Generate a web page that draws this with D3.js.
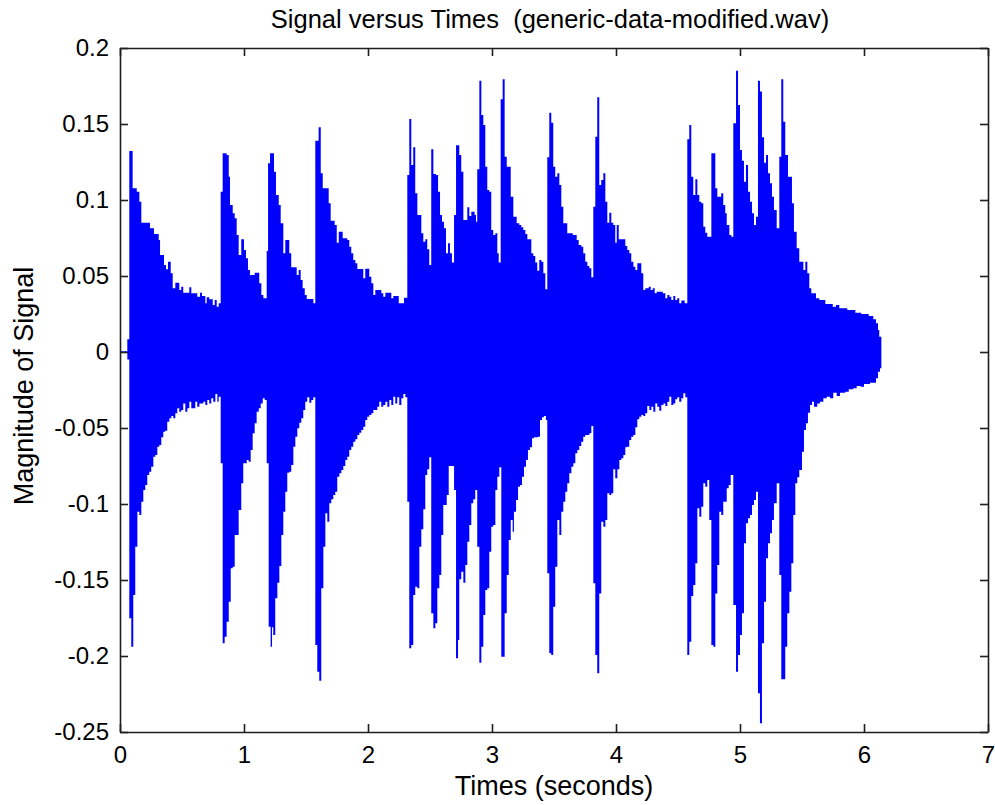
<!DOCTYPE html>
<meta charset="utf-8">
<script src="https://d3js.org/d3.v7.min.js"></script>
<style>
  body { margin: 0; background: #fff; }
  text { font-family: "Liberation Sans", Arial, Helvetica, sans-serif; fill: #000; }
</style>
<div id="chart"></div>
<script>
// axis ticks
var xTicks = [0, 1, 2, 3, 4, 5, 6, 7];
var yTicks = [0.2, 0.15, 0.1, 0.05, 0, -0.05, -0.1, -0.15, -0.2, -0.25];
var yTickLabels = ["0.2", "0.15", "0.1", "0.05", "0", "-0.05", "-0.1", "-0.15", "-0.2", "-0.25"];

// flat lead-in before the first note (seconds, magnitude)
var leadTimes = [0, 0.059];
var leadValues = [0, 0];

// upper envelope of the waveform (step starts)
var upperTimes = [0.059,0.075,0.102,0.135,0.156,0.172,0.242,0.274,0.312,0.323,0.355,0.371,0.387,0.409,0.425,0.446,0.478,0.494,0.510,0.559,0.575,0.623,0.645,0.661,0.688,0.699,0.720,0.748,0.764,0.780,0.796,
  0.812,0.828,0.860,0.877,0.887,0.909,0.925,0.941,0.957,0.978,1.000,1.016,1.032,1.048,1.086,1.123,1.140,1.156,
  1.183,1.194,1.210,1.242,1.258,1.280,1.296,1.317,1.333,1.365,1.381,1.425,1.441,1.457,1.473,1.490,1.506,1.559,
  1.575,1.602,1.619,1.635,1.683,1.699,1.731,1.748,1.764,1.796,1.833,1.849,1.865,1.881,1.898,1.914,1.962,1.978,2.010,2.027,2.043,2.059,2.107,2.123,2.140,2.188,2.204,2.248,2.290,
  2.317,2.333,2.349,2.365,2.381,2.398,2.430,2.446,2.462,2.478,2.494,
  2.510,2.527,2.548,2.565,2.581,2.597,2.613,2.629,2.645,2.661,2.677,
  2.694,2.710,2.736,2.752,2.769,2.801,2.817,2.833,2.860,2.871,
  2.881,2.898,2.914,2.930,2.946,2.962,2.978,2.994,3.010,3.027,3.043,3.054,
  3.070,3.086,3.102,3.119,3.151,3.172,3.199,3.220,3.236,3.252,3.269,3.285,3.317,3.333,3.349,3.365,3.381,3.398,3.414,3.430,
  3.446,3.462,3.478,3.494,3.510,3.527,3.543,3.559,3.575,3.607,3.651,3.683,3.699,3.720,3.736,3.752,3.769,3.785,3.801,
  3.817,3.833,3.849,3.865,3.881,3.898,3.914,3.930,3.946,3.962,3.978,3.994,4.006,4.022,4.075,4.091,4.107,4.123,4.140,4.156,4.172,4.204,4.220,4.236,4.264,4.280,4.296,4.312,4.328,4.377,4.398,4.414,4.430,4.446,4.462,4.478,4.494,4.510,4.527,4.554,
  4.575,4.591,4.607,4.623,4.640,4.656,4.672,4.688,4.704,4.720,4.736,
  4.769,4.801,4.817,4.849,4.865,4.881,4.893,4.914,4.930,
  4.946,4.968,4.984,5.000,5.016,5.032,5.048,5.065,5.081,5.097,5.113,5.129,
  5.145,5.161,5.177,5.194,5.210,5.226,5.242,5.258,5.274,5.296,
  5.317,5.333,5.349,5.365,5.387,5.419,5.435,5.457,5.478,5.511,5.527,5.543,5.559,5.575,5.613,5.640,5.688,5.748,5.774,5.801,5.865,5.930,5.978,6.038,6.075,6.097,6.113,6.123,6.140];
var upperValues = [0.0084,0.1322,0.1077,0.1055,0.0989,0.0851,0.0814,0.0776,0.0737,0.0638,0.0572,0.0544,0.0594,0.0518,0.0419,0.0456,0.0408,0.0430,0.0390,0.0426,0.0386,0.0364,0.0390,0.0368,0.0320,0.0360,0.0347,0.0309,0.0342,0.0298,0.0320,
  0.1055,0.1307,0.1296,0.1153,0.0967,0.0913,0.0880,0.0770,0.0638,0.0741,0.0671,0.0616,0.0539,0.0507,0.0522,0.0452,0.0375,0.0353,
  0.0664,0.1241,0.1307,0.1186,0.1033,0.0967,0.0847,0.0649,0.0737,0.0649,0.0557,0.0507,0.0539,0.0474,0.0419,0.0375,0.0349,0.0320,
  0.1390,0.1478,0.1176,0.1077,0.0978,0.0864,0.0836,0.0719,0.0791,0.0748,0.0737,0.0693,0.0649,0.0605,0.0584,0.0546,0.0485,0.0548,0.0495,0.0452,0.0375,0.0408,0.0386,0.0364,0.0390,0.0353,0.0368,0.0320,0.0357,
  0.1164,0.1533,0.1230,0.1347,0.1044,0.0901,0.0781,0.0726,0.0741,0.0676,0.0572,
  0.1334,0.1171,0.1164,0.1055,0.0901,0.0857,0.0814,0.0649,0.0715,0.0649,0.0588,
  0.0901,0.1360,0.1296,0.1186,0.0868,0.0952,0.0895,0.0923,0.0901,0.0857,
  0.1202,0.1785,0.1559,0.1493,0.1219,0.1066,0.1055,0.0803,0.0770,0.0781,0.0649,0.0588,
  0.1663,0.1794,0.1285,0.1219,0.1022,0.0890,0.0847,0.0836,0.0820,0.0803,0.0776,0.0741,0.0649,0.0632,0.0588,0.0535,0.0605,0.0594,0.0518,0.0413,
  0.1281,0.1574,0.1509,0.1219,0.1153,0.1176,0.1099,0.0956,0.0847,0.0781,0.0770,0.0737,0.0704,0.0693,0.0649,0.0594,0.0566,0.0551,0.0491,
  0.0956,0.1416,0.1676,0.1099,0.1132,0.1176,0.0989,0.0851,0.0916,0.0851,0.0836,0.0719,0.0836,0.0741,0.0697,0.0671,0.0649,0.0594,0.0561,0.0539,0.0584,0.0518,0.0408,0.0419,0.0430,0.0408,0.0419,0.0386,0.0397,0.0386,0.0353,0.0375,0.0364,0.0342,0.0368,0.0342,0.0353,0.0320,0.0338,0.0320,
  0.1399,0.1493,0.1153,0.1033,0.1136,0.1033,0.0989,0.0978,0.0824,0.0785,0.0759,
  0.1307,0.1077,0.1022,0.1044,0.0967,0.0913,0.0836,0.0770,0.0759,
  0.1505,0.1851,0.1625,0.1329,0.1259,0.1120,0.1230,0.1055,0.0989,0.0913,0.0836,0.0890,
  0.1785,0.1713,0.1413,0.1245,0.1296,0.1176,0.1110,0.1022,0.0934,0.0814,
  0.1285,0.1794,0.1515,0.1296,0.1153,0.0978,0.0791,0.0682,0.0594,0.0539,0.0594,0.0518,0.0419,0.0386,0.0353,0.0342,0.0316,0.0298,0.0309,0.0288,0.0276,0.0259,0.0250,0.0237,0.0215,0.0189,0.0145,0.0101,0];

// lower envelope of the waveform (step starts)
var lowerTimes = [0.059,0.075,0.091,0.107,0.123,0.140,0.156,0.172,0.188,0.204,0.220,0.236,0.252,0.269,0.285,0.301,0.317,0.333,0.349,0.365,0.381,0.398,0.414,0.430,0.446,0.462,0.478,0.494,0.510,0.527,0.543,0.559,0.575,0.607,0.623,0.640,0.672,0.688,0.704,0.720,0.736,0.752,0.769,0.785,0.796,
  0.812,0.828,0.844,0.860,0.877,0.893,0.909,0.925,0.957,0.978,0.994,1.022,1.038,1.054,1.070,1.086,1.102,1.119,1.135,1.151,1.167,
  1.183,1.199,1.215,1.226,1.236,1.252,1.269,1.285,1.301,1.317,1.333,1.349,1.365,1.381,1.398,1.414,1.430,1.446,1.462,1.478,1.494,1.510,1.527,1.543,1.559,
  1.575,1.591,1.607,1.623,1.640,1.656,1.672,1.688,1.704,1.720,1.736,1.752,1.769,1.785,1.801,1.817,1.833,1.849,1.865,1.881,1.898,1.914,1.930,1.946,1.962,1.978,1.994,2.010,2.027,2.043,2.075,2.091,2.107,2.123,2.140,2.156,2.172,2.188,2.204,2.220,2.236,2.252,2.269,2.285,2.301,
  2.317,2.333,2.349,2.365,2.381,2.398,2.414,2.430,2.446,2.462,2.478,2.494,
  2.510,2.527,2.543,2.559,2.575,2.591,2.607,2.635,2.651,
  2.694,2.710,2.726,2.736,2.752,2.769,2.785,2.801,2.817,2.833,2.849,2.865,
  2.881,2.898,2.914,2.930,2.946,2.962,2.978,2.994,3.010,3.027,3.043,3.059,
  3.075,3.102,3.119,3.135,3.151,3.167,3.177,3.194,3.210,3.226,3.242,3.258,3.274,3.290,3.306,3.323,3.339,3.371,3.387,3.403,3.419,3.435,
  3.446,3.462,3.478,3.494,3.510,3.527,3.543,3.559,3.575,3.591,3.607,3.623,3.640,3.656,3.672,3.688,3.704,3.720,3.736,3.752,3.785,3.801,
  3.817,3.833,3.849,3.865,3.881,3.898,3.914,3.930,3.946,3.962,3.978,3.994,4.011,4.027,4.043,4.059,4.075,4.091,4.107,4.123,4.140,4.156,4.172,4.188,4.204,4.220,4.236,4.252,4.269,4.285,4.301,4.317,4.333,4.349,4.365,4.382,4.398,4.414,4.430,4.446,4.462,4.478,4.494,4.510,4.527,4.543,4.559,
  4.575,4.591,4.607,4.623,4.640,4.656,4.672,4.688,4.704,4.720,4.736,4.752,
  4.769,4.785,4.801,4.817,4.833,4.849,4.865,4.893,4.909,4.925,
  4.946,4.968,4.984,5.000,5.016,5.032,5.048,5.065,5.081,5.097,5.113,5.129,
  5.145,5.161,5.177,5.194,5.210,5.226,5.242,5.258,5.274,5.296,
  5.317,5.333,5.365,5.381,5.398,5.414,5.430,5.446,5.462,5.478,5.500,5.516,5.532,5.548,5.565,5.581,5.597,5.623,5.645,5.672,5.699,5.726,5.752,5.780,5.806,5.849,5.877,5.914,5.941,5.973,6.000,6.048,6.097,6.113,6.129,6.140];
var lowerValues = [-0.0050,-0.1752,-0.1939,-0.1599,-0.1281,-0.1051,-0.1072,-0.0985,-0.0908,-0.0875,-0.0809,-0.0788,-0.0755,-0.0689,-0.0678,-0.0623,-0.0612,-0.0561,-0.0524,-0.0518,-0.0459,-0.0436,-0.0421,-0.0436,-0.0403,-0.0370,-0.0393,-0.0382,-0.0338,-0.0393,-0.0370,-0.0327,-0.0370,-0.0327,-0.0360,-0.0338,-0.0327,-0.0349,-0.0316,-0.0338,-0.0305,-0.0327,-0.0276,-0.0327,-0.0294,
  -0.0732,-0.1916,-0.1873,-0.1774,-0.1643,-0.1423,-0.1413,-0.1204,-0.1039,-0.0864,-0.0732,-0.0711,-0.0722,-0.0645,-0.0535,-0.0469,-0.0393,-0.0370,-0.0338,-0.0305,-0.0316,
  -0.0732,-0.1807,-0.1939,-0.1811,-0.1862,-0.1620,-0.1518,-0.1408,-0.1204,-0.1051,-0.0919,-0.0794,-0.0788,-0.0743,-0.0623,-0.0557,-0.0502,-0.0465,-0.0436,-0.0382,-0.0327,-0.0298,-0.0334,-0.0316,-0.0298,
  -0.1928,-0.2103,-0.2163,-0.1555,-0.1281,-0.1061,-0.1116,-0.0995,-0.0969,-0.0941,-0.0919,-0.0820,-0.0798,-0.0776,-0.0750,-0.0711,-0.0689,-0.0645,-0.0623,-0.0590,-0.0574,-0.0546,-0.0531,-0.0513,-0.0491,-0.0447,-0.0426,-0.0414,-0.0403,-0.0382,-0.0360,-0.0327,-0.0360,-0.0349,-0.0327,-0.0360,-0.0316,-0.0349,-0.0294,-0.0338,-0.0298,-0.0349,-0.0305,-0.0276,-0.0298,
  -0.0985,-0.1949,-0.1928,-0.1599,-0.1544,-0.1555,-0.1281,-0.1166,-0.1035,-0.0809,-0.0772,-0.0693,
  -0.1719,-0.1818,-0.1785,-0.1555,-0.1467,-0.1204,-0.1007,-0.0941,-0.0750,
  -0.0908,-0.2015,-0.1895,-0.1495,-0.1445,-0.1518,-0.1401,-0.1248,-0.1138,-0.0995,-0.0969,-0.0908,
  -0.1281,-0.2044,-0.1939,-0.1730,-0.1566,-0.1555,-0.1314,-0.1149,-0.1138,-0.0908,-0.0820,-0.0759,
  -0.2005,-0.1719,-0.1467,-0.1237,-0.1105,-0.1182,-0.1051,-0.0974,-0.0886,-0.0875,-0.0820,-0.0755,-0.0711,-0.0645,-0.0627,-0.0568,-0.0561,-0.0557,-0.0447,-0.0430,-0.0421,-0.0447,
  -0.1456,-0.1982,-0.1993,-0.1676,-0.1413,-0.1105,-0.1204,-0.1051,-0.0985,-0.0919,-0.0864,-0.0798,-0.0755,-0.0732,-0.0666,-0.0645,-0.0618,-0.0590,-0.0557,-0.0546,-0.0535,-0.0487,
  -0.1522,-0.1993,-0.2114,-0.1588,-0.1116,-0.1149,-0.1105,-0.0930,-0.0941,-0.0930,-0.0772,-0.0831,-0.0772,-0.0711,-0.0699,-0.0678,-0.0627,-0.0623,-0.0579,-0.0557,-0.0546,-0.0495,-0.0443,-0.0426,-0.0414,-0.0421,-0.0403,-0.0355,-0.0382,-0.0360,-0.0393,-0.0338,-0.0360,-0.0386,-0.0349,-0.0338,-0.0355,-0.0327,-0.0294,-0.0349,-0.0338,-0.0311,-0.0298,-0.0327,-0.0305,-0.0272,-0.0298,
  -0.1993,-0.1906,-0.1605,-0.1533,-0.1390,-0.1028,-0.1084,-0.1018,-0.0864,-0.0886,-0.0842,-0.1105,
  -0.1928,-0.1939,-0.1588,-0.1401,-0.1051,-0.1072,-0.0985,-0.0897,-0.0875,-0.0809,
  -0.1664,-0.2103,-0.1993,-0.1862,-0.1719,-0.1259,-0.1127,-0.1094,-0.1072,-0.1007,-0.0974,-0.0919,
  -0.2245,-0.2443,-0.1916,-0.1643,-0.1357,-0.1259,-0.1193,-0.1105,-0.0995,-0.0864,
  -0.1467,-0.2153,-0.1939,-0.1719,-0.1577,-0.1390,-0.1072,-0.0864,-0.0824,-0.0776,-0.0656,-0.0513,-0.0469,-0.0399,-0.0349,-0.0327,-0.0360,-0.0338,-0.0327,-0.0305,-0.0294,-0.0305,-0.0268,-0.0289,-0.0268,-0.0261,-0.0245,-0.0239,-0.0224,-0.0228,-0.0211,-0.0202,-0.0173,-0.0130,-0.0107,0];

// page and plot box
var W = 995, H = 805;
var margin = {top: 48, right: 7, bottom: 73, left: 120},
    width = W - margin.left - margin.right,
    height = H - margin.top - margin.bottom;

var svg = d3.select("#chart")
  .append("svg")
    .attr("width", W)
    .attr("height", H)
  .append("g")
    .attr("transform", "translate(" + margin.left + "," + margin.top + ")");

var x = d3.scaleLinear().domain([0, 7]).range([0, width]);
var y = d3.scaleLinear().domain([-0.25, 0.2]).range([height, 0]);

var upper = upperTimes.map(function(t, i) { return {t: t, v: upperValues[i]}; });
var lower = lowerTimes.map(function(t, i) { return {t: t, v: lowerValues[i]}; });
var lead = leadTimes.map(function(t, i) { return {t: t, v: leadValues[i]}; });

var envelope = d3.area()
  .curve(d3.curveStepAfter)
  .x(function(d) { return x(d.t); })
  .y0(y(0))
  .y1(function(d) { return y(d.v); });

svg.append("path").datum(upper).attr("d", envelope).attr("fill", "#0000ff");
svg.append("path").datum(lower).attr("d", envelope).attr("fill", "#0000ff");
svg.append("path").datum(lead)
  .attr("d", d3.line().x(function(d) { return x(d.t); }).y(function(d) { return y(d.v); }))
  .attr("stroke", "#0000ff").attr("stroke-width", 1.5).attr("fill", "none");

// MATLAB style box with inward ticks on all four sides
var tickLen = 8;
var axisColor = "#1e1e1e";

svg.append("g")
  .attr("transform", "translate(0," + height + ")")
  .call(d3.axisBottom(x).tickValues(xTicks).tickSize(-tickLen).tickSizeOuter(0).tickPadding(14)
    .tickFormat(function(d) { return String(d); }));
svg.append("g")
  .call(d3.axisTop(x).tickValues(xTicks).tickSize(-tickLen).tickSizeOuter(0).tickFormat(""));
svg.append("g")
  .call(d3.axisLeft(y).tickValues(yTicks).tickSize(-tickLen).tickSizeOuter(0).tickPadding(11)
    .tickFormat(function(d, i) { return yTickLabels[i]; }));
svg.append("g")
  .attr("transform", "translate(" + width + ",0)")
  .call(d3.axisRight(y).tickValues(yTicks).tickSize(-tickLen).tickSizeOuter(0).tickFormat(""));

svg.selectAll(".domain, .tick line")
  .attr("stroke", axisColor)
  .attr("stroke-width", 1.6);
svg.selectAll(".tick text")
  .style("font-family", '"Liberation Sans", Arial, sans-serif')
  .style("font-size", "24px")
  .attr("fill", "#000");

// title and axis labels
svg.append("text")
  .attr("x", width / 2 - 4)
  .attr("y", 28 - margin.top)
  .attr("text-anchor", "middle")
  .style("font-size", "25.5px")
  .style("white-space", "pre")
  .text("Signal versus Times  (generic-data-modified.wav)");

svg.append("text")
  .attr("x", width / 2)
  .attr("y", 795 - margin.top)
  .attr("text-anchor", "middle")
  .style("font-size", "27px")
  .text("Times (seconds)");

svg.append("text")
  .attr("transform", "translate(" + (33 - margin.left) + "," + (386 - margin.top) + ") rotate(-90)")
  .attr("text-anchor", "middle")
  .style("font-size", "27px")
  .text("Magnitude of Signal");
</script>
